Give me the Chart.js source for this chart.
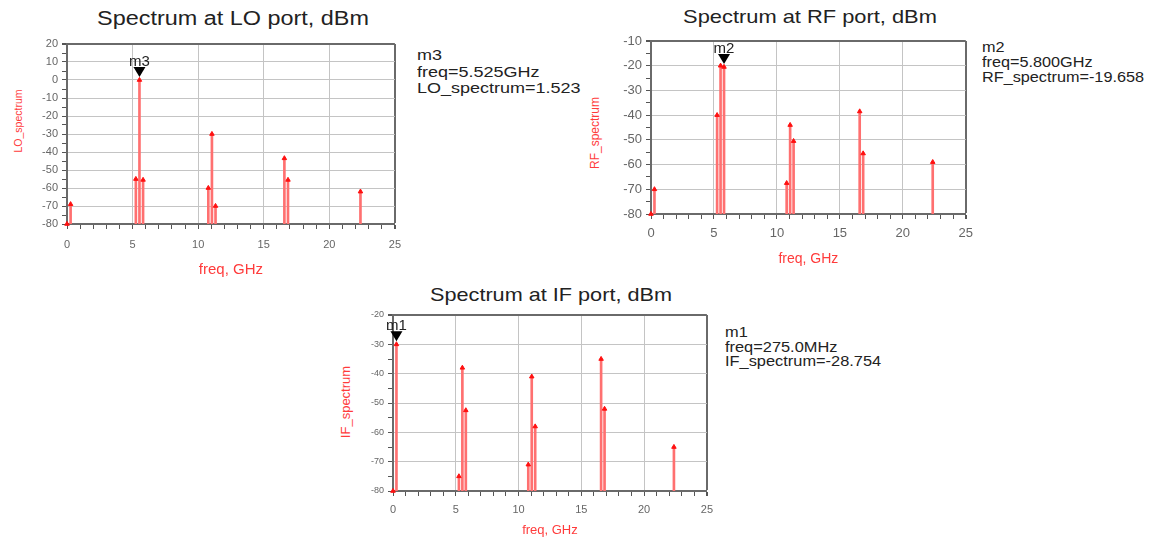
<!DOCTYPE html>
<html>
<head>
<meta charset="utf-8">
<script src="https://cdn.jsdelivr.net/npm/chart.js@4.4.1/dist/chart.umd.min.js"></script>
<style>
  html, body { margin: 0; padding: 0; background: #fff; }
  body { width: 1153px; height: 543px; position: relative; overflow: hidden; font-family: Arial, "Liberation Sans", sans-serif; }
  .box { position: absolute; }
  .ttl { position: absolute; white-space: nowrap; color: #222; }
  .ytl { position: absolute; white-space: nowrap; color: #ff3b3b; transform: translate(-50%, -50%) rotate(-90deg); }
  .ann { position: absolute; white-space: nowrap; color: #222; transform-origin: 0 0; }
</style>
</head>
<body>
  <div class="ttl" id="t-lo" style="left:233px;top:18px;font-size:20px;transform:translate(-50%,-50%) scaleX(1.17)">Spectrum at LO port, dBm</div>
  <div class="ttl" id="t-rf" style="left:810px;top:17px;font-size:19px;transform:translate(-50%,-50%) scaleX(1.15)">Spectrum at RF port, dBm</div>
  <div class="ttl" id="t-if" style="left:551px;top:295px;font-size:19px;transform:translate(-50%,-50%) scaleX(1.14)">Spectrum at IF port, dBm</div>

  <div class="ytl" style="left:18px;top:121px;font-size:10.5px">LO_spectrum</div>
  <div class="ytl" style="left:595px;top:133px;font-size:12px">RF_spectrum</div>
  <div class="ytl" style="left:345px;top:402px;font-size:13px">IF_spectrum</div>

  <div class="ann" style="left:417px;top:47px;font-size:15px;line-height:16.5px;transform:scaleX(1.2)">m3<br>freq=5.525GHz<br>LO_spectrum=1.523</div>
  <div class="ann" style="left:982px;top:40px;font-size:14px;line-height:15px;transform:scaleX(1.16)">m2<br>freq=5.800GHz<br>RF_spectrum=-19.658</div>
  <div class="ann" style="left:725px;top:325px;font-size:14px;line-height:14.5px;transform:scaleX(1.17)">m1<br>freq=275.0MHz<br>IF_spectrum=-28.754</div>

  <div class="box" style="left:0px;top:30px;width:410px;height:255px"><canvas id="c-lo" width="410" height="255"></canvas></div>
  <div class="box" style="left:580px;top:20px;width:400px;height:255px"><canvas id="c-rf" width="400" height="255"></canvas></div>
  <div class="box" style="left:330px;top:300px;width:390px;height:243px"><canvas id="c-if" width="390" height="243"></canvas></div>

<script>
// Mixer products (GHz) - same tones show up on all three ports
const FREQ_GHZ = [0, 0.275, 5.25, 5.525, 5.8, 10.775, 11.05, 11.325, 16.575, 16.85, 22.375];

const LO_DBM = [-80, -69, -55, 0, -55.5, -60, -30, -70, -43.5, -55.5, -62];
const RF_DBM = [-80, -70, -40, -20, -20.5, -67.5, -44, -50.5, -38.5, -55.5, -59];
const IF_DBM = [-80, -30, -75, -38, -52.5, -71, -41, -58, -35, -52, -65];

const X_TICKS = [0, 5, 10, 15, 20, 25];
const LO_Y = [-80, 20];
const RF_Y = [-80, -10];
const IF_Y = [-80, -20];

const FONT = 'Arial, "Liberation Sans", sans-serif';
const charts = {};

// marker triangle + label drawn at the data point, through the chart scales
const markerPlugin = {
  id: 'marker',
  afterDatasetsDraw(chart) {
    const m = chart.options.plugins.marker;
    if (!m) return;
    const px = chart.scales.x.getPixelForValue(m.x);
    const py = chart.scales.y.getPixelForValue(m.y);
    const cx = chart.ctx;
    cx.save();
    cx.fillStyle = '#000';
    cx.beginPath();
    cx.moveTo(px - 6, py - 13);
    cx.lineTo(px + 6, py - 13);
    cx.lineTo(px, py - 3);
    cx.closePath();
    cx.fill();
    cx.font = '15px ' + FONT;
    cx.fillStyle = '#222';
    cx.textAlign = 'center';
    cx.textBaseline = 'alphabetic';
    cx.fillText(m.label, px, py - 14);
    cx.restore();
  }
};

function drawSpectrum(id, freq, dbm, yRange, mIdx, mLabel, g) {
  const [yMin, yMax] = yRange;
  const gridCol = '#c4c4c4';
  const edgeCol = '#6a6a6a';
  const tv = c => (c.tick ? c.tick.value : NaN);

  charts[id] = new Chart(document.getElementById(id), {
    type: 'bar',
    data: {
      datasets: [
        {
          type: 'bar',
          data: freq.map((f, i) => ({ x: f, y: [yMin, dbm[i]] })),
          backgroundColor: '#ff7070',
          borderWidth: 0,
          barThickness: 2,
          order: 2,
        },
        {
          type: 'scatter',
          data: freq.map((f, i) => ({ x: f, y: dbm[i] })),
          pointStyle: 'triangle',
          pointRadius: 2.6,
          backgroundColor: '#ff1010',
          borderColor: '#ff1010',
          borderWidth: 1,
          clip: false,
          order: 1,
        },
      ],
    },
    options: {
      responsive: false,
      animation: false,
      events: [],
      layout: { padding: { top: g.padTop, right: g.padRight, left: 0, bottom: 0 } },
      plugins: {
        legend: { display: false },
        tooltip: { enabled: false },
        marker: { x: freq[mIdx], y: dbm[mIdx], label: mLabel },
      },
      scales: {
        x: {
          type: 'linear',
          offset: false,
          min: 0, max: 25,
          afterBuildTicks: s => { s.ticks = Array.from({ length: 26 }, (_, i) => ({ value: i })); },
          ticks: {
            autoSkip: false, maxRotation: 0,
            callback: v => X_TICKS.includes(v) ? v : '',
            color: '#666', font: { size: g.xTick, family: FONT }, padding: g.xTickPad,
          },
          grid: {
            offset: false,
            color: c => tv(c) === 25 ? edgeCol : (tv(c) % 5 === 0 ? gridCol : 'rgba(0,0,0,0)'),
            lineWidth: c => tv(c) === 25 ? 2 : 1,
            tickColor: '#555', tickLength: 5,
          },
          border: { color: edgeCol, width: 2 },
          title: { display: true, text: 'freq, GHz', color: '#ff3b3b', font: { size: g.xTitle, family: FONT }, padding: { top: 0, bottom: g.xTitlePad } },
          afterFit: s => { s.height = g.xAxisH; },
        },
        y: {
          min: yMin, max: yMax,
          ticks: {
            stepSize: 5, autoSkip: false,
            callback: v => v % 10 === 0 ? v : '',
            color: '#666', font: { size: g.yTick, family: FONT }, padding: 4,
          },
          grid: {
            color: c => tv(c) === yMax ? edgeCol : (tv(c) % 10 === 0 ? gridCol : 'rgba(0,0,0,0)'),
            lineWidth: c => tv(c) === yMax ? 2 : 1,
            tickColor: '#555', tickLength: 5,
          },
          border: { color: edgeCol, width: 2 },
          afterFit: s => { s.width = g.yAxisW; },
        },
      },
    },
    plugins: [markerPlugin],
  });
}

drawSpectrum('c-lo', FREQ_GHZ, LO_DBM, LO_Y, 3, 'm3',
  { padTop: 14, padRight: 10, yAxisW: 67, xAxisH: 61, xTick: 11, yTick: 11, xTickPad: 9, xTitle: 15, xTitlePad: 6 });
drawSpectrum('c-rf', FREQ_GHZ, RF_DBM, RF_Y, 4, 'm2',
  { padTop: 21, padRight: 11, yAxisW: 71, xAxisH: 61, xTick: 13, yTick: 13, xTickPad: 7, xTitle: 14, xTitlePad: 7 });
drawSpectrum('c-if', FREQ_GHZ, IF_DBM, IF_Y, 1, 'm1',
  { padTop: 15, padRight: 10, yAxisW: 63, xAxisH: 52, xTick: 11, yTick: 9, xTickPad: 7, xTitle: 13, xTitlePad: 5 });
</script>
</body>
</html>
